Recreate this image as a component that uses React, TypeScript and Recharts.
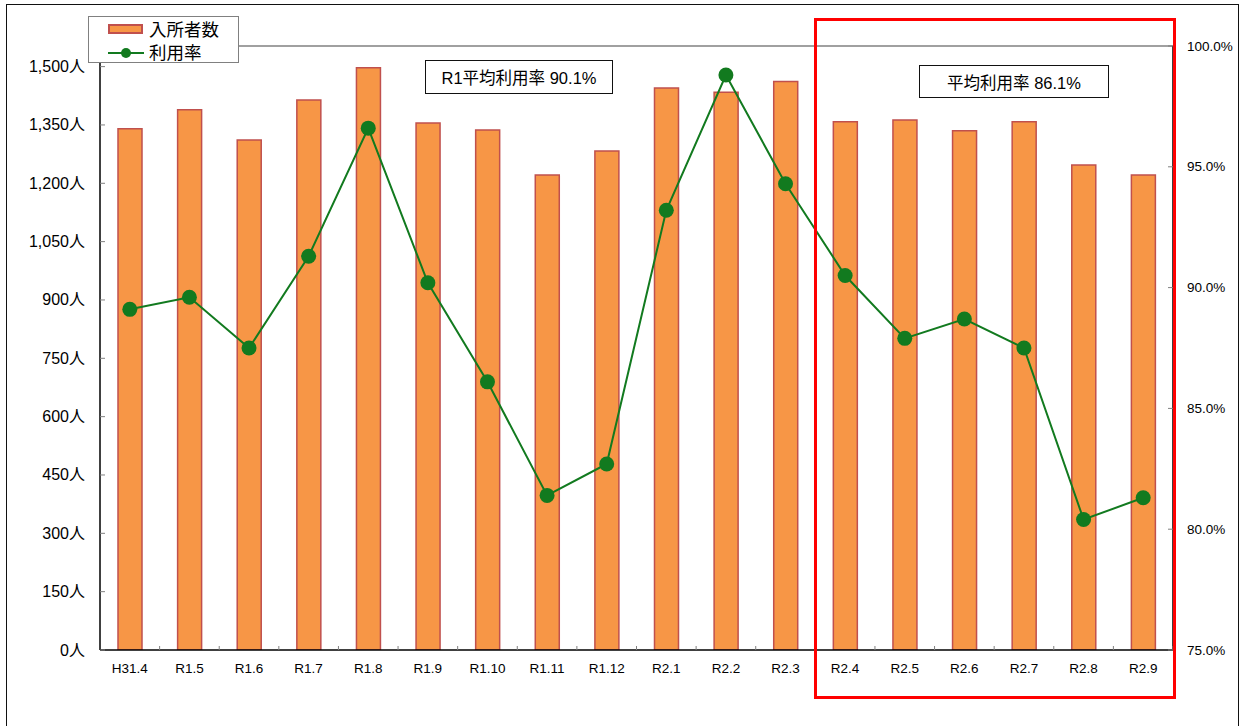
import React from 'react';
import { ComposedChart, Bar, Line, XAxis, YAxis, ReferenceLine } from 'recharts';

const months = ['H31.4', 'R1.5', 'R1.6', 'R1.7', 'R1.8', 'R1.9', 'R1.10', 'R1.11', 'R1.12', 'R2.1', 'R2.2', 'R2.3', 'R2.4', 'R2.5', 'R2.6', 'R2.7', 'R2.8', 'R2.9'];
const admissions = [1340, 1389, 1311, 1414, 1497, 1355, 1337, 1221, 1283, 1445, 1434, 1462, 1358, 1363, 1335, 1358, 1247, 1221];
const utilization = [89.1, 89.6, 87.5, 91.3, 96.6, 90.2, 86.1, 81.4, 82.7, 93.2, 98.8, 94.3, 90.5, 87.9, 88.7, 87.5, 80.4, 81.3];
const leftTicks = [0, 150, 300, 450, 600, 750, 900, 1050, 1200, 1350, 1500];
const rightTicks = [75, 80, 85, 90, 95, 100];
const seriesNames = ['入所者数', '利用率'];
const notes = ['R1平均利用率 90.1%', '平均利用率 86.1%'];

const data = months.map((m, i) => ({ month: m, admissions: admissions[i], rate: utilization[i] }));

const FONT = "'Liberation Sans', 'Noto Sans CJK JP', sans-serif";
const ORANGE = '#F79646';
const BAR_STROKE = '#C0504D';
const GREEN = '#127A1F';

const LeftTick = (props: any) => {
  const { x, y, payload } = props;
  return (
    <g>
      <line x1={x} x2={x + 5} y1={y} y2={y} stroke="#808080" strokeWidth={1} />
      <text x={x - 15} y={y} textAnchor="end" dominantBaseline="central" fontSize={16} fontFamily={FONT} fill="#000">
        {payload.value.toLocaleString('en-US')}人
      </text>
    </g>
  );
};

const RightTick = (props: any) => {
  const { x, y, payload } = props;
  return (
    <g>
      <line x1={x - 5} x2={x} y1={y} y2={y} stroke="#808080" strokeWidth={1} />
      <text x={x + 14} y={y} textAnchor="start" dominantBaseline="central" fontSize={13.5} fontFamily={FONT} fill="#000">
        {payload.value.toFixed(1)}%
      </text>
    </g>
  );
};

const BottomTick = (props: any) => {
  const { x, y, payload } = props;
  const half = typeof payload.offset === 'number' && payload.offset > 0 ? payload.offset : 29.8;
  return (
    <g>
      <line x1={x + half} x2={x + half} y1={y - 4} y2={y} stroke="#808080" strokeWidth={1} />
      <text x={x} y={y + 18} textAnchor="middle" dominantBaseline="central" fontSize={13.5} fontFamily={FONT} fill="#000">
        {payload.value}
      </text>
    </g>
  );
};

export default function App() {
  return (
    <div style={{ position: 'fixed', left: 0, top: 0, width: 1247, height: 726, background: '#fff', overflow: 'hidden', fontFamily: FONT }}>
      <div style={{ position: 'absolute', left: 6, top: 4, width: 1231, height: 760, borderLeft: '1.5px solid #111', borderTop: '1.5px solid #111', borderRight: '1.5px solid #111' }} />
      <ComposedChart
        width={1247}
        height={726}
        data={data}
        margin={{ top: 46, right: 0, bottom: 0, left: 0 }}
        barSize={24}
      >
        <XAxis
          dataKey="month"
          xAxisId="x"
          height={76}
          tickSize={0}
          tickMargin={0}
          tickLine={false}
          axisLine={{ stroke: '#000', strokeWidth: 1.5 }}
          tick={<BottomTick />}
          interval={0}
        />
        <YAxis
          yAxisId="left"
          orientation="left"
          width={100}
          domain={[0, 1553]}
          ticks={leftTicks}
          allowDataOverflow
          tickSize={0}
          tickMargin={0}
          tickLine={false}
          axisLine={{ stroke: '#000', strokeWidth: 1.5 }}
          tick={<LeftTick />}
          interval={0}
        />
        <YAxis
          yAxisId="right"
          orientation="right"
          width={74}
          domain={[75, 100]}
          ticks={rightTicks}
          allowDataOverflow
          tickSize={0}
          tickMargin={0}
          tickLine={false}
          axisLine={{ stroke: '#000', strokeWidth: 1.5 }}
          tick={<RightTick />}
          interval={0}
        />
        <ReferenceLine xAxisId="x" yAxisId="right" y={100} stroke="#808080" strokeWidth={1.5} />
        <Bar
          xAxisId="x"
          yAxisId="left"
          dataKey="admissions"
          name={seriesNames[0]}
          fill={ORANGE}
          stroke={BAR_STROKE}
          strokeWidth={1.5}
          isAnimationActive={false}
        />
        <Line
          xAxisId="x"
          yAxisId="right"
          dataKey="rate"
          name={seriesNames[1]}
          stroke={GREEN}
          strokeWidth={2}
          dot={{ r: 7.5, fill: GREEN, stroke: GREEN, strokeWidth: 0 }}
          activeDot={false}
          isAnimationActive={false}
        />
      </ComposedChart>

      {/* legend */}
      <div style={{ position: 'absolute', left: 88, top: 16, width: 151, height: 47, background: '#fff', border: '1px solid #808080', boxSizing: 'border-box' }}>
        <div style={{ position: 'absolute', left: 19, top: 7, width: 35, height: 10, background: ORANGE, border: `2px solid ${BAR_STROKE}`, boxSizing: 'border-box' }} />
        <div style={{ position: 'absolute', left: 60, top: 1, fontSize: 17.5, lineHeight: '24px', color: '#000', whiteSpace: 'nowrap' }}>{seriesNames[0]}</div>
        <div style={{ position: 'absolute', left: 19, top: 35, width: 36, height: 2, background: GREEN }} />
        <div style={{ position: 'absolute', left: 32, top: 31, width: 10, height: 10, borderRadius: 5, background: GREEN }} />
        <div style={{ position: 'absolute', left: 60, top: 24, fontSize: 17.5, lineHeight: '24px', color: '#000', whiteSpace: 'nowrap' }}>{seriesNames[1]}</div>
      </div>

      {/* annotations */}
      <div style={{ position: 'absolute', left: 425, top: 60, width: 188, height: 34, border: '1.5px solid #111', background: '#fff', boxSizing: 'border-box', display: 'flex', alignItems: 'center', justifyContent: 'center', fontSize: 16.5, color: '#000', whiteSpace: 'nowrap' }}>
        {notes[0]}
      </div>
      <div style={{ position: 'absolute', left: 919, top: 65, width: 190, height: 33, border: '1.5px solid #111', background: '#fff', boxSizing: 'border-box', display: 'flex', alignItems: 'center', justifyContent: 'center', fontSize: 16.5, color: '#000', whiteSpace: 'nowrap' }}>
        {notes[1]}
      </div>

      {/* highlight box */}
      <div style={{ position: 'absolute', left: 814, top: 18, width: 362, height: 681, border: '3px solid #FF0000', boxSizing: 'border-box', pointerEvents: 'none' }} />
    </div>
  );
}
